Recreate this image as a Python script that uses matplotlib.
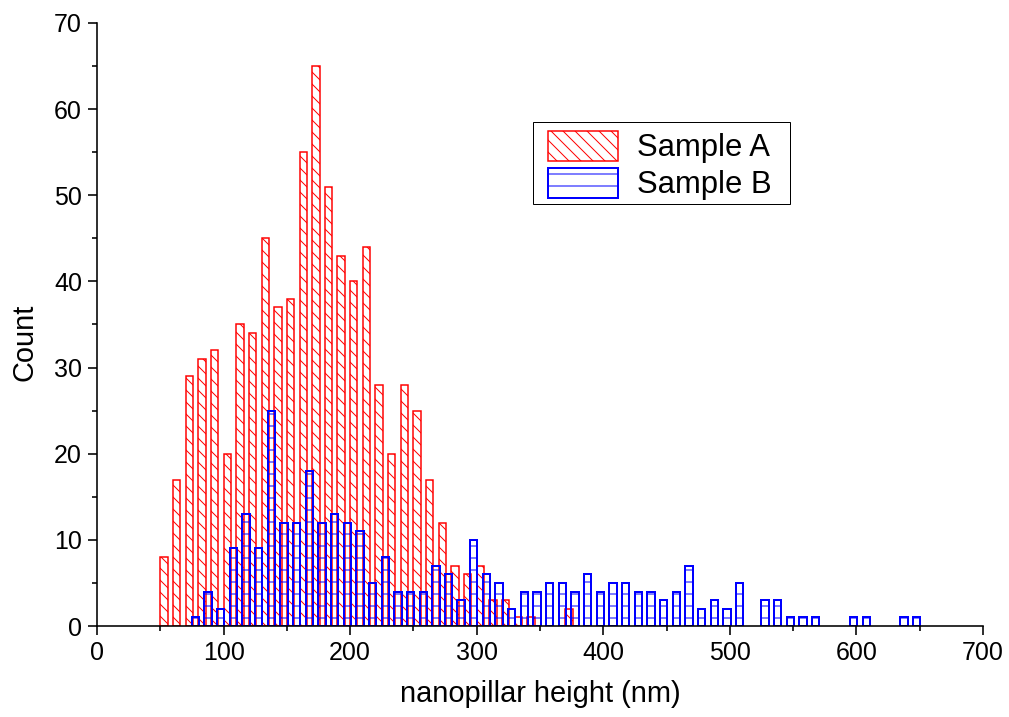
import numpy as np
import matplotlib
matplotlib.use("Agg")
import matplotlib.pyplot as plt
from matplotlib.patches import Rectangle
from matplotlib.ticker import MultipleLocator

# ---------- data ----------
# left edge of each 10 nm height bin
bin_left = np.arange(50, 650, 10)

count_a = [8, 17, 29, 31, 32, 20, 35, 34, 45, 37,
           38, 55, 65, 51, 43, 40, 44, 28, 20, 28,
           25, 17, 12, 7, 6, 7, 3, 3, 1, 1,
           0, 0, 2, 0, 0, 0, 0, 0, 0, 0,
           0, 0, 0, 0, 0, 0, 0, 0, 0, 0,
           0, 0, 0, 0, 0, 0, 0, 0, 0, 0]

count_b = [0, 0, 1, 4, 2, 9, 13, 9, 25, 12,
           12, 18, 12, 13, 12, 11, 5, 8, 4, 4,
           4, 7, 6, 3, 10, 6, 5, 2, 4, 4,
           5, 5, 4, 6, 4, 5, 5, 4, 4, 3,
           4, 7, 2, 3, 2, 5, 0, 3, 3, 1,
           1, 1, 0, 0, 1, 1, 0, 0, 1, 1]

labels = ["Sample A", "Sample B"]

# ---------- style ----------
plt.rcParams["font.family"] = ["Liberation Sans", "DejaVu Sans"]
plt.rcParams["hatch.linewidth"] = 1.0

BAR_W = 5.8      # nm, drawn width of one bar
B_SHIFT = 4.8    # nm, sample B bars sit right of sample A bars
W, H = 1009, 717

fig = plt.figure(figsize=(W / 72, H / 72), dpi=72)
ax = fig.add_axes([97 / W, 1 - 626 / H, 886 / W, 603 / H])

a = np.asarray(count_a)
b = np.asarray(count_b)
ma = a > 0
mb = b > 0

ax.bar(bin_left[ma], a[ma], width=BAR_W, align="edge",
       facecolor="none", edgecolor="#ff0000", linewidth=1.5,
       hatch="\\\\", label=labels[0], zorder=2)
ax.bar(bin_left[mb] + B_SHIFT, b[mb], width=BAR_W, align="edge",
       facecolor="none", edgecolor="#0000ff", linewidth=2.0,
       hatch="-", label=labels[1], zorder=3)

ax.set_xlim(0, 700)
ax.set_ylim(0, 70)
ax.xaxis.set_major_locator(MultipleLocator(100))
ax.xaxis.set_minor_locator(MultipleLocator(50))
ax.yaxis.set_major_locator(MultipleLocator(10))
ax.yaxis.set_minor_locator(MultipleLocator(5))

for side in ("top", "right"):
    ax.spines[side].set_visible(False)
for side in ("left", "bottom"):
    ax.spines[side].set_linewidth(1.6)
    ax.spines[side].set_zorder(5)

ax.tick_params(which="major", direction="out", length=9, width=1.6,
               labelsize=25)
ax.tick_params(which="minor", direction="out", length=5, width=1.6)
ax.tick_params(axis="x", which="major", pad=6)
ax.tick_params(axis="y", which="major", pad=6)

ax.set_xlabel("nanopillar height (nm)", fontsize=29, labelpad=15)
ax.set_ylabel("Count", fontsize=29)
ax.yaxis.set_label_coords(-0.066, 0.47)

# legend without its own frame; the box is drawn separately so the
# side padding can be wider than the top/bottom padding
leg = ax.legend(loc="upper left", bbox_to_anchor=(548 / W, 1 - 131 / H),
                bbox_transform=fig.transFigure, borderaxespad=0,
                borderpad=0, fontsize=31, frameon=False,
                handlelength=2.25, handleheight=1.1, labelspacing=0.14,
                handletextpad=0.62)
leg.set_zorder(6)
ax.add_patch(Rectangle((533 / W, 1 - 204 / H), 257 / W, 82 / H,
                       transform=fig.transFigure, facecolor="white",
                       edgecolor="black", linewidth=1.0, zorder=4,
                       clip_on=False))

fig.savefig("out.png", dpi=72)
